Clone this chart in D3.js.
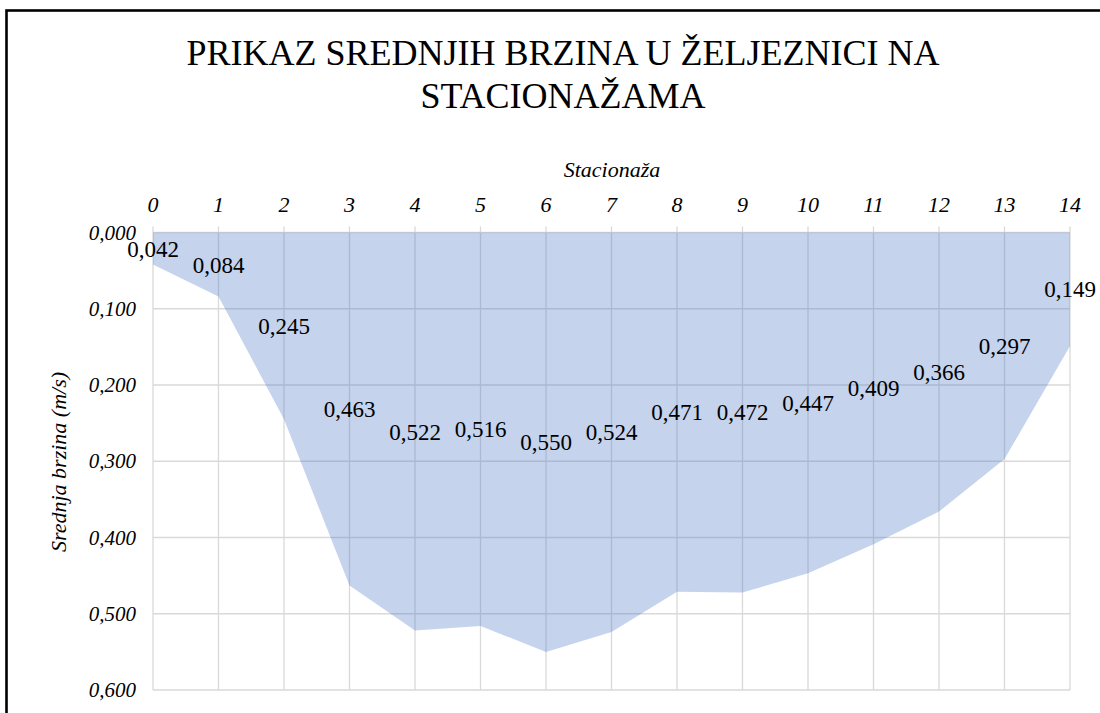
<!DOCTYPE html>
<html><head><meta charset="utf-8">
<script src="https://cdn.jsdelivr.net/npm/d3@7"></script>
</head>
<body style="margin:0">
<svg id="chart" width="1100" height="713"></svg>
<script>
const stations = [0,1,2,3,4,5,6,7,8,9,10,11,12,13,14];
const speeds = [0.042,0.084,0.245,0.463,0.522,0.516,0.550,0.524,0.471,0.472,0.447,0.409,0.366,0.297,0.149];
const yTicks = [0,0.1,0.2,0.3,0.4,0.5,0.6];
const titleLines = ["PRIKAZ SREDNJIH BRZINA U ŽELJEZNICI NA","STACIONAŽAMA"];
const xTitle = "Stacionaža";
const yTitle = "Srednja brzina (m/s)";

const svg = d3.select("#chart");
const fmt = v => d3.format(".3f")(v).replace(".", ",");

svg.append("rect").attr("x",6.5).attr("y",10.5).attr("width",1200).attr("height",800)
  .attr("fill","none").attr("stroke","#000").attr("stroke-width",2.6);

const x = d3.scaleLinear().domain([0,14]).range([153,1070]);
const y = d3.scaleLinear().domain([0,0.6]).range([232.5,690]);

svg.selectAll("line.h").data(yTicks).join("line").attr("class","h")
  .attr("x1",x(0)).attr("x2",x(14)).attr("y1",d=>y(d)).attr("y2",d=>y(d))
  .attr("stroke","#d9d9d9").attr("stroke-width",1.3);
svg.selectAll("line.v").data(stations).join("line").attr("class","v")
  .attr("x1",d=>x(d)).attr("x2",d=>x(d)).attr("y1",y(0)-6).attr("y2",y(0.6))
  .attr("stroke","#d9d9d9").attr("stroke-width",1.3);

const area = d3.area().x((d,i)=>x(stations[i])).y0(y(0)).y1(d=>y(d));
svg.append("path").datum(speeds).attr("d",area)
  .attr("fill","#4472c4").attr("fill-opacity",0.31);

svg.selectAll("text.xt").data(stations).join("text").attr("class","xt")
  .attr("x",d=>x(d)).attr("y",212).attr("text-anchor","middle")
  .attr("font-family","Liberation Serif").attr("font-style","italic").attr("font-size",22).text(d=>d);

svg.selectAll("text.yt").data(yTicks).join("text").attr("class","yt")
  .attr("x",136).attr("y",d=>y(d)+7).attr("text-anchor","end")
  .attr("font-family","Liberation Serif").attr("font-style","italic").attr("font-size",21).text(d=>fmt(d));

svg.selectAll("text.dl").data(speeds).join("text").attr("class","dl")
  .attr("x",(d,i)=>x(stations[i])).attr("y",d=>y(d/2)+8).attr("text-anchor","middle")
  .attr("font-family","Liberation Serif").attr("font-size",23).text(d=>fmt(d));

svg.selectAll("text.tt").data(titleLines).join("text").attr("class","tt")
  .attr("x",563).attr("y",(d,i)=>65+i*43).attr("text-anchor","middle")
  .attr("font-family","Liberation Serif").attr("font-size",36).text(d=>d);

svg.append("text").attr("x",612).attr("y",177).attr("text-anchor","middle")
  .attr("font-family","Liberation Serif").attr("font-style","italic").attr("font-size",22).text(xTitle);

svg.append("text").attr("transform","translate(66,462) rotate(-90)").attr("text-anchor","middle")
  .attr("font-family","Liberation Serif").attr("font-style","italic").attr("font-size",22).text(yTitle);
</script>
</body></html>
